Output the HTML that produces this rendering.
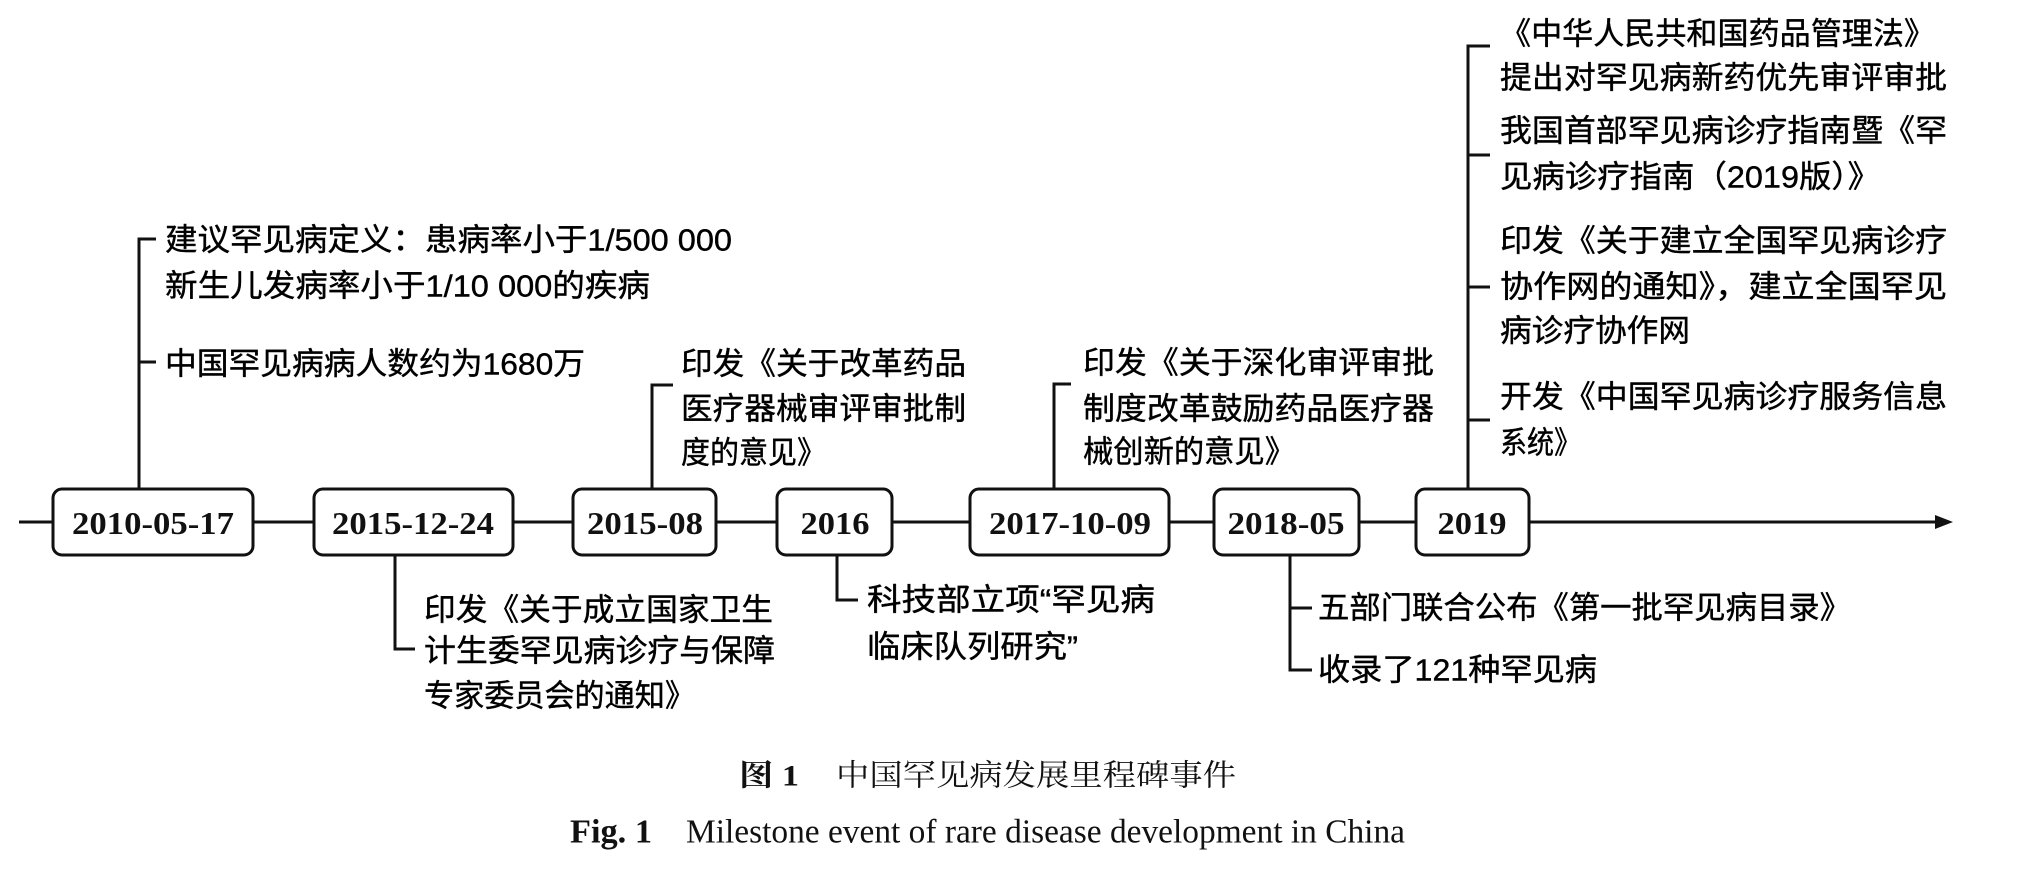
<!DOCTYPE html>
<html><head><meta charset="utf-8"><style>
html,body{margin:0;padding:0;background:#fff;}
svg{display:block;}
.c{font-family:"Liberation Sans","Noto Sans CJK SC",sans-serif;font-size:31px;fill:#000;stroke:#000;stroke-width:0.4;}
.d{font-family:"Liberation Serif","Noto Serif CJK SC",serif;font-size:32px;font-weight:bold;fill:#111;}
</style></head><body>
<svg width="2018" height="878" viewBox="0 0 2018 878" xmlns="http://www.w3.org/2000/svg">
<g stroke="#111" stroke-width="3" fill="none">
<line x1="19" y1="522" x2="1938" y2="522"/>
<polyline points="156,239 139,239 139,489"/><line x1="139" y1="362" x2="156" y2="362"/>
<polyline points="673,385 652,385 652,489"/>
<polyline points="395,555 395,649 415,649"/>
<polyline points="837,555 837,600 858,600"/>
<polyline points="1071,384 1054,384 1054,489"/>
<polyline points="1490,46 1468,46 1468,489"/>
<line x1="1468" y1="155" x2="1490" y2="155"/><line x1="1468" y1="287" x2="1490" y2="287"/><line x1="1468" y1="420" x2="1490" y2="420"/>
<polyline points="1290,554 1290,670 1312,670"/><line x1="1290" y1="608" x2="1312" y2="608"/>
</g>
<polygon points="1935,515 1953,522 1935,529" fill="#111"/>
<g stroke="#111" stroke-width="3" fill="#fff">
<rect x="53" y="489" width="200" height="66" rx="9"/>
<rect x="314" y="489" width="199" height="66" rx="9"/>
<rect x="573" y="489" width="143" height="66" rx="9"/>
<rect x="777" y="489" width="115" height="66" rx="9"/>
<rect x="970" y="489" width="199" height="66" rx="9"/>
<rect x="1214" y="489" width="145" height="66" rx="9"/>
<rect x="1416" y="489" width="113" height="66" rx="9"/>
</g>
<g class="d" dominant-baseline="central" text-anchor="middle">
<text x="153" y="523" textLength="162" lengthAdjust="spacingAndGlyphs">2010-05-17</text>
<text x="413" y="523" textLength="162" lengthAdjust="spacingAndGlyphs">2015-12-24</text>
<text x="645" y="523" textLength="116" lengthAdjust="spacingAndGlyphs">2015-08</text>
<text x="835" y="523" textLength="69" lengthAdjust="spacingAndGlyphs">2016</text>
<text x="1070" y="523" textLength="162" lengthAdjust="spacingAndGlyphs">2017-10-09</text>
<text x="1286" y="523" textLength="117" lengthAdjust="spacingAndGlyphs">2018-05</text>
<text x="1472" y="523" textLength="69" lengthAdjust="spacingAndGlyphs">2019</text>
</g>
<g class="c" dominant-baseline="central">
<text x="165" y="240" textLength="567" lengthAdjust="spacingAndGlyphs">建议罕见病定义：患病率小于1/500 000</text>
<text x="165" y="286" textLength="485" lengthAdjust="spacingAndGlyphs">新生儿发病率小于1/10 000的疾病</text>
<text x="165" y="364" textLength="420" lengthAdjust="spacingAndGlyphs">中国罕见病病人数约为1680万</text>
<text x="681" y="364" textLength="285" lengthAdjust="spacingAndGlyphs">印发《关于改革药品</text>
<text x="681" y="409" textLength="285" lengthAdjust="spacingAndGlyphs">医疗器械审评审批制</text>
<text x="681" y="453" textLength="145" lengthAdjust="spacingAndGlyphs">度的意见》</text>
<text x="424" y="610" textLength="349" lengthAdjust="spacingAndGlyphs">印发《关于成立国家卫生</text>
<text x="424" y="651" textLength="351" lengthAdjust="spacingAndGlyphs">计生委罕见病诊疗与保障</text>
<text x="424" y="696" textLength="271" lengthAdjust="spacingAndGlyphs">专家委员会的通知》</text>
<text x="867" y="600" textLength="288" lengthAdjust="spacingAndGlyphs">科技部立项“罕见病</text>
<text x="867" y="647" textLength="211" lengthAdjust="spacingAndGlyphs">临床队列研究”</text>
<text x="1083" y="363" textLength="351" lengthAdjust="spacingAndGlyphs">印发《关于深化审评审批</text>
<text x="1083" y="409" textLength="351" lengthAdjust="spacingAndGlyphs">制度改革鼓励药品医疗器</text>
<text x="1083" y="452" textLength="212" lengthAdjust="spacingAndGlyphs">械创新的意见》</text>
<text x="1500" y="34" textLength="435" lengthAdjust="spacingAndGlyphs">《中华人民共和国药品管理法》</text>
<text x="1500" y="78" textLength="447" lengthAdjust="spacingAndGlyphs">提出对罕见病新药优先审评审批</text>
<text x="1500" y="131" textLength="447" lengthAdjust="spacingAndGlyphs">我国首部罕见病诊疗指南暨《罕</text>
<text x="1500" y="177" textLength="380" lengthAdjust="spacingAndGlyphs">见病诊疗指南（2019版）》</text>
<text x="1500" y="241" textLength="447" lengthAdjust="spacingAndGlyphs">印发《关于建立全国罕见病诊疗</text>
<text x="1500" y="287" textLength="447" lengthAdjust="spacingAndGlyphs">协作网的通知》，建立全国罕见</text>
<text x="1500" y="331" textLength="190" lengthAdjust="spacingAndGlyphs">病诊疗协作网</text>
<text x="1500" y="397" textLength="447" lengthAdjust="spacingAndGlyphs">开发《中国罕见病诊疗服务信息</text>
<text x="1500" y="443" textLength="81" lengthAdjust="spacingAndGlyphs">系统》</text>
<text x="1318" y="608" textLength="533" lengthAdjust="spacingAndGlyphs">五部门联合公布《第一批罕见病目录》</text>
<text x="1318" y="670" textLength="279" lengthAdjust="spacingAndGlyphs">收录了121种罕见病</text>
</g>
<g dominant-baseline="central" fill="#111">
<text x="739" y="776" font-family="Liberation Serif,Noto Serif CJK SC,serif" font-size="30" font-weight="bold" textLength="60" lengthAdjust="spacingAndGlyphs">图 1</text>
<text x="836" y="776" font-family="Liberation Serif,Noto Serif CJK SC,serif" font-size="30" textLength="400" lengthAdjust="spacingAndGlyphs">中国罕见病发展里程碑事件</text>
<text x="570" y="832" font-family="Liberation Serif,serif" font-size="34" font-weight="bold" textLength="82" lengthAdjust="spacingAndGlyphs">Fig. 1</text>
<text x="686" y="832" font-family="Liberation Serif,serif" font-size="34" textLength="719" lengthAdjust="spacingAndGlyphs">Milestone event of rare disease development in China</text>
</g>
</svg>
</body></html>
